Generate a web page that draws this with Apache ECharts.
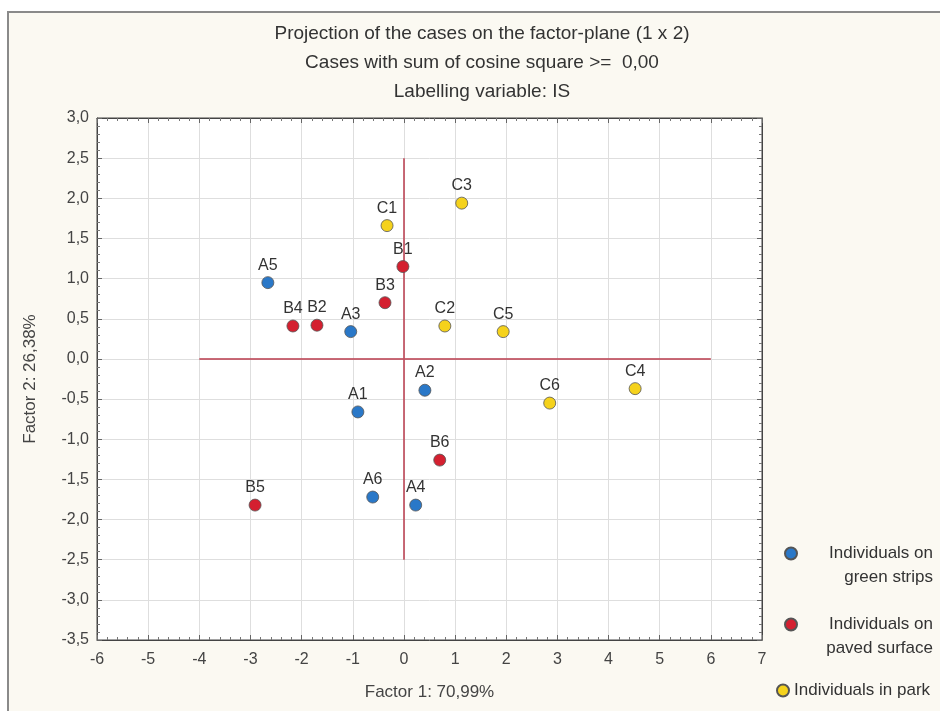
<!DOCTYPE html>
<html>
<head>
<meta charset="utf-8">
<script src="https://cdn.jsdelivr.net/npm/echarts@6/dist/echarts.min.js"></script>
<style>
  html, body { margin: 0; padding: 0; background: #ffffff; }
  #chart { width: 940px; height: 711px; }
</style>
</head>
<body>
<div id="chart"></div>
<script>
// data: [factor1, factor2, label]
var greenStrips = [
  [-0.90, -0.66, "A1"],
  [0.41, -0.39, "A2"],
  [-1.04, 0.34, "A3"],
  [0.23, -1.82, "A4"],
  [-2.66, 0.95, "A5"],
  [-0.61, -1.72, "A6"]
];
var pavedSurface = [
  [-0.02, 1.15, "B1"],
  [-1.70, 0.42, "B2"],
  [-0.37, 0.70, "B3"],
  [-2.17, 0.41, "B4"],
  [-2.91, -1.82, "B5"],
  [0.70, -1.26, "B6"]
];
var inPark = [
  [-0.33, 1.66, "C1"],
  [0.80, 0.41, "C2"],
  [1.13, 1.94, "C3"],
  [4.52, -0.37, "C4"],
  [1.94, 0.34, "C5"],
  [2.85, -0.55, "C6"]
];
var seriesNames = ["Individuals on green strips", "Individuals on paved surface", "Individuals in park"];
var seriesColors = ["#2a78c8", "#d42030", "#f5d21c"];
// reference cross lines
var hLine = [[-4, 0], [6, 0]];
var vLine = [[0, 2.5], [0, -2.5]];

var chart = echarts.init(document.getElementById("chart"));
var FONT = "Liberation Sans";

function comma(v) {
  return v.toFixed(1).replace(".", ",");
}

function makeSeries(name, data, color) {
  return {
    name: name,
    type: "scatter",
    data: data,
    symbolSize: 12,
    itemStyle: { color: color, borderColor: "#555", borderWidth: 0.8, opacity: 1 },
    label: {
      show: true,
      position: "top",
      distance: 3,
      formatter: function (p) { return p.value[2]; },
      color: "#333",
      fontSize: 16,
      fontFamily: FONT
    },
    emphasis: { disabled: true },
    z: 5
  };
}

// two-line legend text: an empty first line keeps the dot level with "Individuals on"
function legendFor(name, left, top, twoLine) {
  return {
    data: [name],
    left: left,
    top: top,
    icon: "circle",
    itemWidth: 12,
    itemHeight: 12,
    selectedMode: false,
    formatter: function (n) {
      if (!twoLine) return "{a|" + n + "}";
      var i = n.indexOf(" ", n.indexOf(" ") + 1);
      return "{e|}\n{b|" + n.slice(0, i) + "}\n{b|" + n.slice(i + 1) + "}";
    },
    textStyle: {
      color: "#333",
      fontSize: 17,
      fontFamily: FONT,
      rich: {
        a: { fontSize: 17, color: "#333", fontFamily: FONT },
        e: { fontSize: 17, lineHeight: 24, width: 131 },
        b: { fontSize: 17, color: "#333", fontFamily: FONT, width: 131, align: "right", lineHeight: 24 }
      }
    }
  };
}

var txt = { color: "#444", fontSize: 16, fontFamily: FONT };
var nameTxt = { color: "#444", fontSize: 17, fontFamily: FONT };
var tick = { show: true, inside: true, length: 5, lineStyle: { color: "#666" } };
var minor = { show: true, splitNumber: 5, length: 3, lineStyle: { color: "#777" } };
var frameLine = { show: true, onZero: false, lineStyle: { color: "#444" } };

var option = {
  backgroundColor: "#ffffff",
  animation: false,
  graphic: [{
    type: "rect",
    shape: { x: 8, y: 12, width: 1000, height: 1000 },
    style: { fill: "#fbf9f2", stroke: "#8a8a8a", lineWidth: 2 },
    z: -10
  }],
  title: {
    text: "Projection of the cases on the factor-plane (1 x 2)\nCases with sum of cosine square >=  0,00\nLabelling variable: IS",
    left: 477,
    top: 14,
    textAlign: "center",
    textStyle: { color: "#333", fontSize: 19, fontWeight: "normal", fontFamily: FONT, lineHeight: 29 }
  },
  legend: [
    legendFor(seriesNames[0], 779, 516, true),
    legendFor(seriesNames[1], 779, 587, true),
    legendFor(seriesNames[2], 771, 677, false)
  ],
  grid: { left: 97, right: 178, top: 118, bottom: 71, backgroundColor: "#ffffff", show: true, borderColor: "#444", borderWidth: 1 },
  xAxis: [{
    type: "value",
    min: -6, max: 7, interval: 1,
    name: "Factor 1: 70,99%",
    nameLocation: "middle",
    nameGap: 44,
    nameTextStyle: nameTxt,
    axisLine: frameLine,
    axisTick: tick,
    minorTick: minor,
    axisLabel: Object.assign({ margin: 12 }, txt),
    splitLine: { show: true, lineStyle: { color: "#dedede" } }
  }, {
    type: "value",
    position: "top",
    min: -6, max: 7, interval: 1,
    axisLine: frameLine,
    axisTick: tick,
    minorTick: minor,
    axisLabel: { show: false },
    splitLine: { show: false }
  }],
  yAxis: [{
    type: "value",
    min: -3.5, max: 3, interval: 0.5,
    name: "Factor 2: 26,38%",
    nameLocation: "middle",
    nameGap: 58,
    nameTextStyle: nameTxt,
    axisLine: frameLine,
    axisTick: tick,
    minorTick: minor,
    axisLabel: Object.assign({ margin: 8, formatter: comma }, txt),
    splitLine: { show: true, lineStyle: { color: "#dedede" } }
  }, {
    type: "value",
    position: "right",
    min: -3.5, max: 3, interval: 0.5,
    axisLine: frameLine,
    axisTick: tick,
    minorTick: minor,
    axisLabel: { show: false },
    splitLine: { show: false }
  }],
  series: [
    {
      type: "line",
      data: [],
      silent: true,
      markLine: {
        symbol: "none",
        silent: true,
        label: { show: false },
        lineStyle: { color: "#c0505f", width: 2, type: "solid", opacity: 0.85 },
        data: [
          [{ coord: hLine[0] }, { coord: hLine[1] }],
          [{ coord: vLine[0] }, { coord: vLine[1] }]
        ]
      },
      z: 2
    },
    makeSeries(seriesNames[0], greenStrips, seriesColors[0]),
    makeSeries(seriesNames[1], pavedSurface, seriesColors[1]),
    makeSeries(seriesNames[2], inPark, seriesColors[2])
  ]
};

chart.setOption(option);
</script>
</body>
</html>
